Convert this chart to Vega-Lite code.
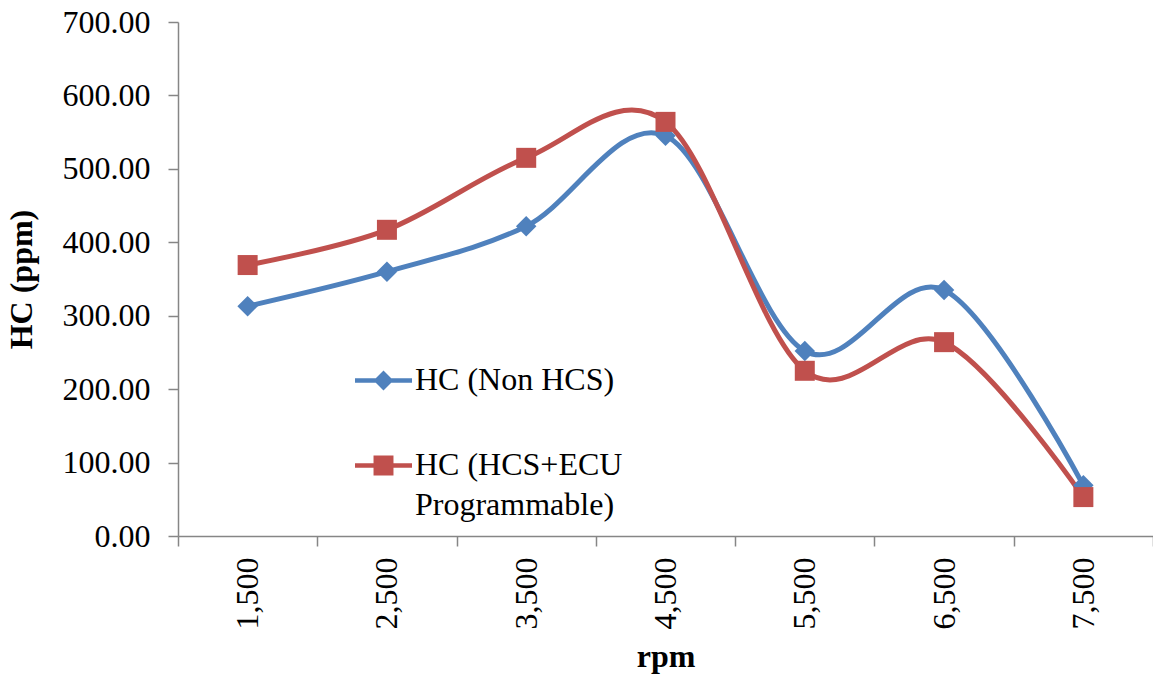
{
  "$schema": "https://vega.github.io/schema/vega-lite/v6.json",
  "autosize": {"type": "none"},
  "width": 975,
  "height": 514,
  "padding": {"left": 178, "top": 22, "right": 0, "bottom": 146},
  "background": "white",
  "config": {
    "view": {"stroke": null},
    "font": "Liberation Serif",
    "axis": {
      "labelFont": "Liberation Serif",
      "labelFontSize": 32,
      "labelColor": "black",
      "titleFont": "Liberation Serif",
      "titleFontSize": 32,
      "titleFontWeight": "bold",
      "titleColor": "black",
      "domainColor": "#868686",
      "domainWidth": 1.5,
      "tickColor": "#868686",
      "tickWidth": 1.5,
      "tickSize": 10,
      "grid": false
    }
  },
  "data": {
    "values": [
      {"rpm": "1,500", "series": "HC (Non HCS)", "hc": 313},
      {"rpm": "2,500", "series": "HC (Non HCS)", "hc": 360},
      {"rpm": "3,500", "series": "HC (Non HCS)", "hc": 422},
      {"rpm": "4,500", "series": "HC (Non HCS)", "hc": 545},
      {"rpm": "5,500", "series": "HC (Non HCS)", "hc": 252},
      {"rpm": "6,500", "series": "HC (Non HCS)", "hc": 335},
      {"rpm": "7,500", "series": "HC (Non HCS)", "hc": 69},
      {"rpm": "1,500", "series": "HC (HCS+ECU Programmable)", "hc": 369},
      {"rpm": "2,500", "series": "HC (HCS+ECU Programmable)", "hc": 417},
      {"rpm": "3,500", "series": "HC (HCS+ECU Programmable)", "hc": 515},
      {"rpm": "4,500", "series": "HC (HCS+ECU Programmable)", "hc": 564},
      {"rpm": "5,500", "series": "HC (HCS+ECU Programmable)", "hc": 225},
      {"rpm": "6,500", "series": "HC (HCS+ECU Programmable)", "hc": 264},
      {"rpm": "7,500", "series": "HC (HCS+ECU Programmable)", "hc": 53}
    ]
  },
  "encoding": {
    "x": {
      "field": "rpm",
      "type": "ordinal",
      "sort": ["1,500", "2,500", "3,500", "4,500", "5,500", "6,500", "7,500"],
      "scale": {"type": "band", "paddingInner": 0, "paddingOuter": 0},
      "axis": {
        "title": "rpm",
        "labelAngle": 270,
        "labelPadding": 11,
        "tickBand": "extent",
        "titlePadding": 12
      }
    },
    "y": {
      "field": "hc",
      "type": "quantitative",
      "scale": {"domain": [0, 700], "nice": false},
      "axis": {
        "title": "HC (ppm)",
        "values": [0, 100, 200, 300, 400, 500, 600, 700],
        "format": ".2f",
        "labelPadding": 18,
        "titlePadding": 24
      }
    },
    "color": {
      "field": "series",
      "type": "nominal",
      "sort": ["HC (Non HCS)", "HC (HCS+ECU Programmable)"],
      "scale": {"domain": ["HC (Non HCS)", "HC (HCS+ECU Programmable)"], "range": ["#4F81BD", "#C0504D"]},
      "legend": {
        "title": null,
        "orient": "none",
        "legendX": 177,
        "legendY": 330,
        "padding": 0,
        "symbolSize": 3249,
        "labelFont": "Liberation Serif",
        "labelFontSize": 32,
        "labelColor": "black",
        "labelOffset": 3,
        "labelLimit": 0,
        "rowPadding": 41,
        "labelExpr": "datum.label == 'HC (HCS+ECU Programmable)' ? ['HC (HCS+ECU', 'Programmable)'] : datum.label",
        "encode": {
          "symbols": {
            "update": {
              "shape": {"signal": "datum.value == 'HC (Non HCS)' ? 'M-1,-0.08H1V0.08H-1Z M-0.35,0L0,-0.35L0.35,0L0,0.35Z' : 'M-1,-0.08H1V0.08H-1Z M-0.35,-0.35H0.35V0.35H-0.35Z'"},
              "fill": {"signal": "datum.value == 'HC (Non HCS)' ? '#4F81BD' : '#C0504D'"},
              "strokeWidth": {"value": 0},
              "opacity": {"value": 1},
              "fillOpacity": {"value": 1}
            }
          },
          "labels": {
            "update": {
              "baseline": {"value": "top"},
              "dy": {"value": -16},
              "lineHeight": {"value": 40}
            }
          }
        }
      }
    }
  },
  "layer": [
    {
      "mark": {"type": "line", "interpolate": "cardinal", "strokeWidth": 5, "strokeCap": "round"}
    },
    {
      "transform": [{"filter": "datum.series == 'HC (Non HCS)'"}],
      "mark": {"type": "point", "shape": "diamond", "filled": true, "size": 420, "opacity": 1}
    },
    {
      "transform": [{"filter": "datum.series == 'HC (HCS+ECU Programmable)'"}],
      "mark": {"type": "point", "shape": "square", "filled": true, "size": 400, "opacity": 1}
    }
  ]
}
